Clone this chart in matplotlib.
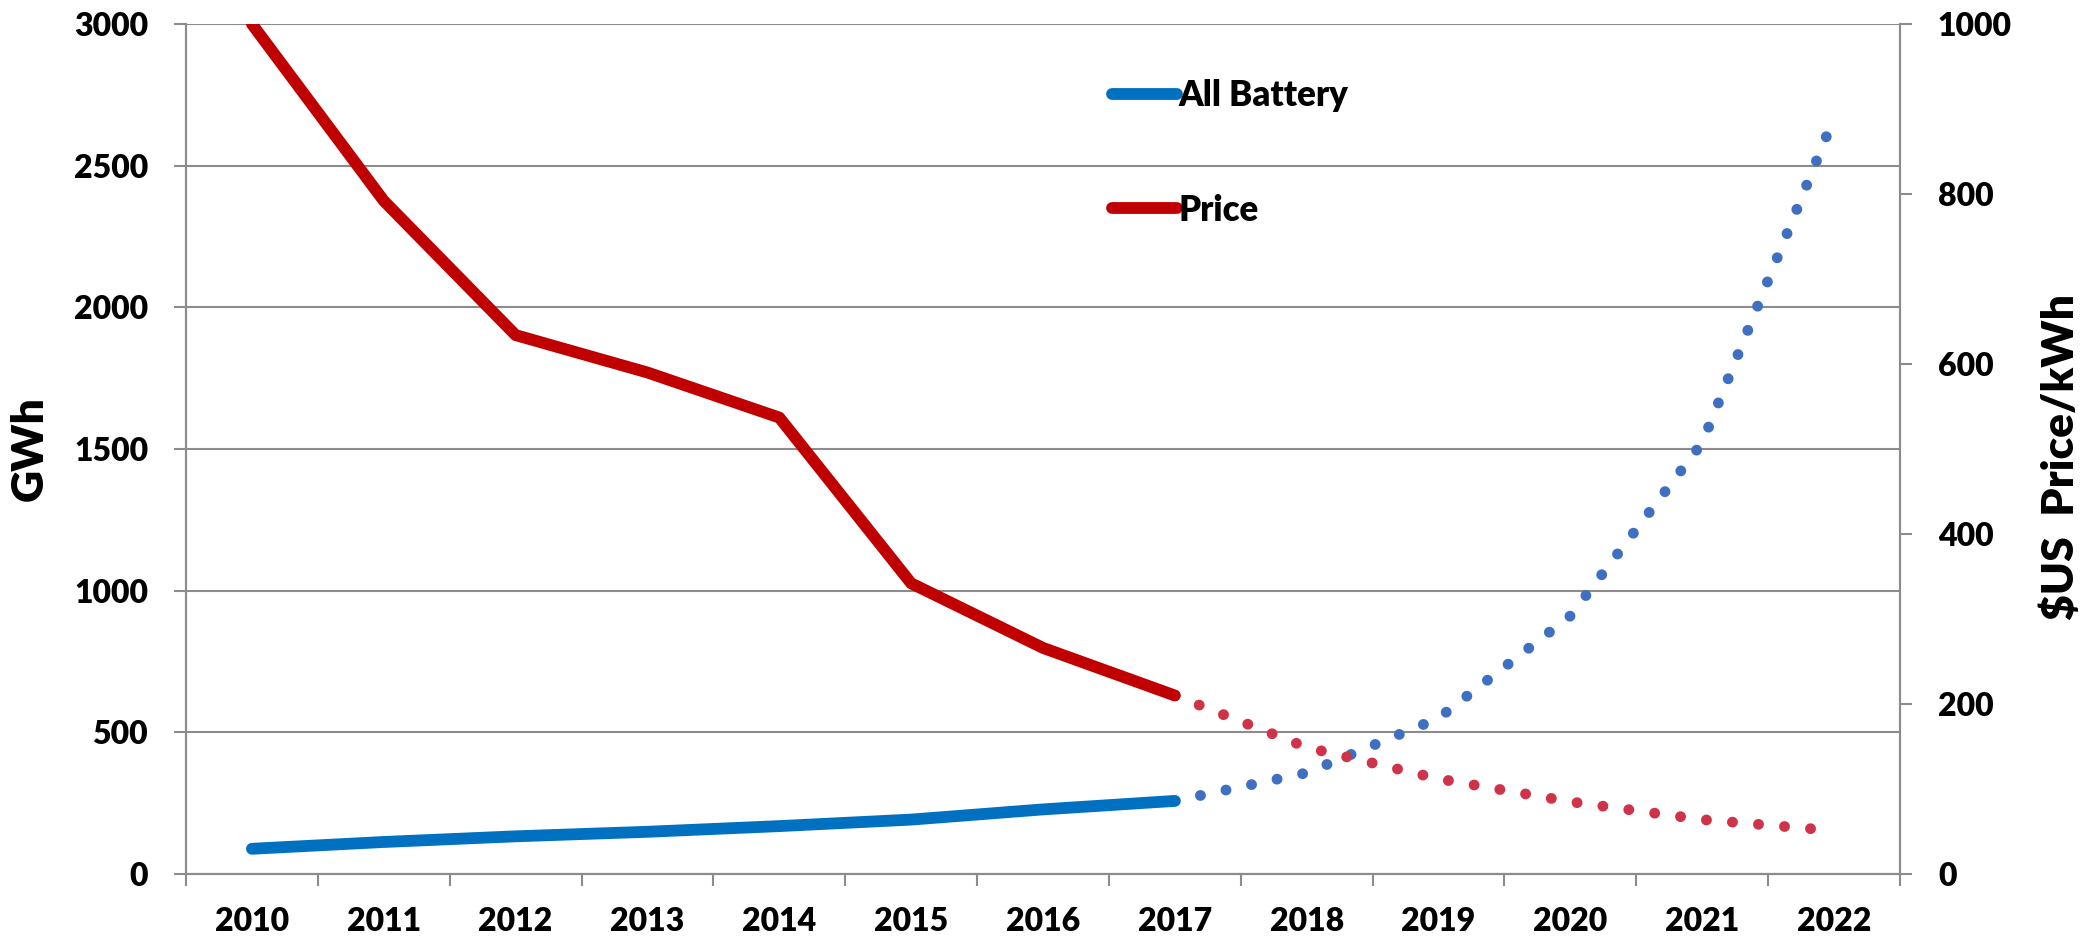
import matplotlib
matplotlib.use("Agg")
import matplotlib.pyplot as plt
from matplotlib.ticker import FixedLocator, NullFormatter, FixedFormatter

# ---- data ----
years = ["2010", "2011", "2012", "2013", "2014", "2015", "2016",
         "2017", "2018", "2019", "2020", "2021", "2022"]
battery_actual = [89, 113, 133, 149, 169, 192, 228, 258]          # 2010-2017, GWh
battery_trend = [258, 357, 550, 911, 1522, 2670]                  # 2017-2022, GWh
price_actual = [1000, 792, 634, 590, 537, 342, 266, 210]          # 2010-2017, $US/kWh
price_trend = [210, 149, 112, 85, 64, 51]                         # 2017-2022, $US/kWh

gwh_ticks = [0, 500, 1000, 1500, 2000, 2500, 3000]
price_ticks = [0, 200, 400, 600, 800, 1000]

# ---- style ----
plt.rcParams['font.family'] = ['Lato', 'DejaVu Sans']
plt.rcParams['font.weight'] = 'heavy'
GRID = '#8c8c8c'
BLUE = '#0070C0'
RED = '#C00000'
BLUE_DOT = '#3E6FC0'
RED_DOT = '#CF3349'

W, H = 2083, 941
fig = plt.figure(figsize=(W / 100, H / 100), dpi=100)
ax = fig.add_axes([186 / W, 1 - 874 / H, 1714 / W, 850 / H])
ax2 = ax.twinx()

n = len(years)
x_act = list(range(len(battery_actual)))
x_tr = list(range(len(battery_actual) - 1, len(battery_actual) - 1 + len(battery_trend)))

dot_kw = dict(lw=7.8, dashes=(0.01, 2.4), dash_capstyle='round')
solid_kw = dict(lw=8.5, solid_capstyle='round', solid_joinstyle='round')

ax.plot(x_tr, battery_trend, color=BLUE_DOT, zorder=2, **dot_kw)
lb, = ax.plot(x_act, battery_actual, color=BLUE, zorder=3, label='All Battery', **solid_kw)
ax2.plot(x_tr, price_trend, color=RED_DOT, zorder=2, **dot_kw)
lp, = ax2.plot(x_act, price_actual, color=RED, zorder=3, label='Price', **solid_kw)

# ---- axes ----
ax.set_xlim(-0.5, n - 0.5)
ax.set_ylim(gwh_ticks[0], gwh_ticks[-1])
ax2.set_ylim(price_ticks[0], price_ticks[-1])

ax.xaxis.set_major_locator(FixedLocator([i - 0.5 for i in range(n + 1)]))
ax.xaxis.set_major_formatter(NullFormatter())
ax.xaxis.set_minor_locator(FixedLocator(list(range(n))))
ax.xaxis.set_minor_formatter(FixedFormatter(years))
ax.tick_params(axis='x', which='major', direction='out', length=8.6, width=1.5, color=GRID)
ax.tick_params(axis='x', which='minor', length=0, pad=24, labelsize=23)

ax.set_yticks(gwh_ticks)
ax.tick_params(axis='y', direction='out', length=8.6, width=1.5, color=GRID, pad=18.7, labelsize=23)
ax2.set_yticks(price_ticks)
ax2.tick_params(axis='y', direction='out', length=8.6, width=1.5, color=GRID, pad=18.7, labelsize=23)

ax.yaxis.grid(True, color=GRID, lw=1.5)
ax.set_axisbelow(True)
for a in (ax, ax2):
    for s in a.spines.values():
        s.set_color(GRID)
        s.set_linewidth(1.5)
    a.spines['top'].set_visible(False)

ax.set_ylabel('GWh', fontsize=32, fontweight='heavy')
ax.yaxis.set_label_coords(-0.0793, 0.5)
ax2.set_ylabel(r'\$US  Price/kWh', fontsize=32, fontweight='heavy', rotation=90)
ax2.yaxis.set_label_coords(1.0817, 0.49)

fig.legend([lb, lp], ['All Battery', 'Price'], loc='upper left',
           bbox_to_anchor=(1112 / W, 1 - 79 / H), frameon=False, fontsize=25,
           handlelength=1.86, handletextpad=0.05, labelspacing=2.35,
           borderpad=0, borderaxespad=0)

fig.savefig('out.png', dpi=100, facecolor='white')
